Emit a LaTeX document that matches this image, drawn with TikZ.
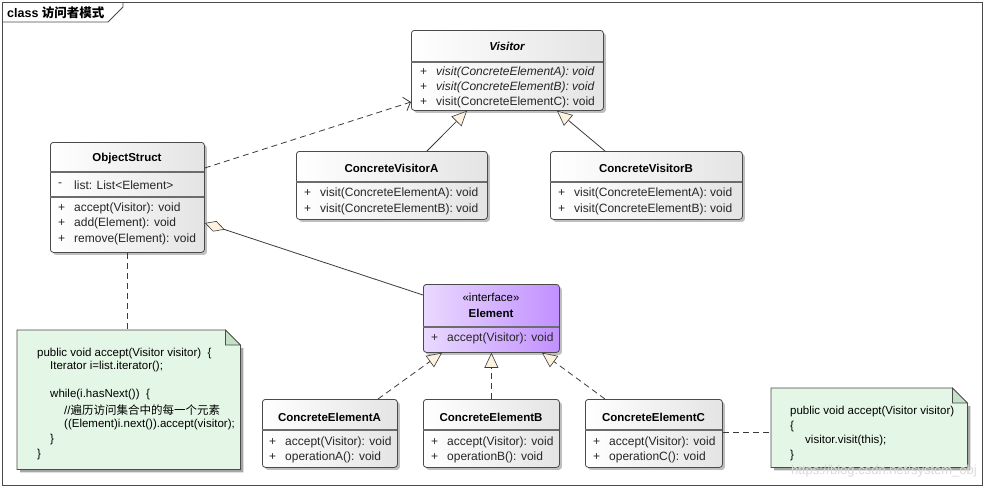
\documentclass[tikz,border=0pt]{standalone}
\usepackage{fontspec}
\setmainfont{Liberation Sans}
\newfontfamily\cjk{Noto Sans CJK SC}
\usetikzlibrary{arrows.meta,shadows}
\definecolor{boxR}{HTML}{E4E4E4}
\definecolor{elemL}{HTML}{EAD9FF}
\definecolor{elemR}{HTML}{C190FF}
\definecolor{notefill}{HTML}{E4F7E6}
\definecolor{foldfill}{HTML}{C4E0C6}
\definecolor{tricol}{HTML}{FDF1DF}
\definecolor{linecol}{HTML}{3A3A3A}
\definecolor{bordercol}{HTML}{4A4A4A}
\newcommand\mline[5]{\node[mem] (#1s) at (#2,#3) {#4}; \node[mem] (#1) at ({#2+16},#3) {#5};}
\begin{document}
\begin{tikzpicture}[x=1pt,y=-1pt,
  cls/.style={draw=bordercol, line width=0.8pt, rounded corners=3pt, left color=white, right color=boxR, shading angle=90,
    drop shadow={shadow xshift=2.5pt, shadow yshift=-2.5pt, fill=black, opacity=0.25}, anchor=north west, inner sep=0},
  ecls/.style={cls, left color=elemL, right color=elemR},
  divider/.style={draw=gray!85!black, line width=1.1pt},
  mem/.style={anchor=west, inner sep=0, font=\fontsize{12}{14}\selectfont, text=black!85},
  hdr/.style={inner sep=0, font=\fontsize{11.5}{13}\selectfont\bfseries},
  conn/.style={draw=linecol, line width=0.8pt},
  dep/.style={conn, dash pattern=on 6pt off 4pt, -{Straight Barb[length=6pt,width=14pt,line width=0.8pt]}},
  gen/.style={conn, -{Triangle[length=15pt,width=14pt,fill=tricol,line width=0.6pt]}},
  real/.style={gen, dash pattern=on 6pt off 4pt},
  aggr/.style={conn, {Diamond[length=21pt,width=11pt,fill=tricol,line width=0.6pt]}-},
  notel/.style={anchor=west, inner sep=0, font=\fontsize{11.5}{13}\selectfont, text=black},
]
\useasboundingbox (0,0) rectangle (985,488);
% frame
\draw[draw=bordercol, line width=0.8pt] (2,2) rectangle (982,485);
\draw[draw=bordercol, line width=0.8pt] (2,22) -- (108,22) -- (123,7) -- (123,2);
\node[anchor=west, inner sep=0, font=\fontsize{12.5}{14}\selectfont\bfseries] (title) at (7,12.5) {class {\cjk 访问者模式}};

% Visitor
\node[cls, minimum width=192, minimum height=80] (vis) at (411,30) {};
\draw[divider] (411,62) -- (603,62);
\node[hdr, font=\fontsize{11.5}{13}\selectfont\bfseries\itshape] (visn) at (507,46) {Visitor};
\mline{v1}{420}{72}{+}{\itshape visit(ConcreteElementA): void}
\mline{v2}{420}{87}{+}{\itshape visit(ConcreteElementB): void}
\mline{v3}{420}{102}{+}{visit(ConcreteElementC): void}

% ObjectStruct
\node[cls, minimum width=154, minimum height=110] (os) at (50,142) {};
\draw[divider] (50,172) -- (204,172);
\draw[divider] (50,197) -- (204,197);
\node[hdr] (osn) at (127,159) {ObjectStruct};
\mline{o0}{58}{185}{-}{list: List<Element>}
\mline{o1}{58}{208}{+}{accept(Visitor): void}
\mline{o2}{58}{223}{+}{add(Element): void}
\mline{o3}{58}{239}{+}{remove(Element): void}

% ConcreteVisitorA
\node[cls, minimum width=191, minimum height=68] (cva) at (296,151) {};
\draw[divider] (296,182) -- (487,182);
\node[hdr] (cvan) at (391.5,168) {ConcreteVisitorA};
\mline{a1}{304}{193}{+}{visit(ConcreteElementA): void}
\mline{a2}{304}{209}{+}{visit(ConcreteElementB): void}

% ConcreteVisitorB
\node[cls, minimum width=192, minimum height=68] (cvb) at (550,151) {};
\draw[divider] (550,182) -- (742,182);
\node[hdr] (cvbn) at (646,168) {ConcreteVisitorB};
\mline{b1}{558}{193}{+}{visit(ConcreteElementA): void}
\mline{b2}{558}{209}{+}{visit(ConcreteElementB): void}

% Element
\node[ecls, minimum width=136, minimum height=68] (el) at (423,284) {};
\draw[divider] (423,327) -- (559,327);
\node[inner sep=0, font=\fontsize{11.5}{13}\selectfont] (elst) at (491,297) {«interface»};
\node[hdr] (eln) at (491,313) {Element};
\mline{e1}{431}{338}{+}{accept(Visitor): void}

% Concrete elements
\node[cls, minimum width=135, minimum height=68] (cea) at (262,399) {};
\draw[divider] (262,430) -- (397,430);
\node[hdr] (cean) at (329.5,417) {ConcreteElementA};
\mline{ca1}{269}{442}{+}{accept(Visitor): void}
\mline{ca2}{269}{457}{+}{operationA(): void}

\node[cls, minimum width=136, minimum height=68] (ceb) at (423,399) {};
\draw[divider] (423,430) -- (559,430);
\node[hdr] (cebn) at (491,417) {ConcreteElementB};
\mline{cb1}{431}{442}{+}{accept(Visitor): void}
\mline{cb2}{431}{457}{+}{operationB(): void}

\node[cls, minimum width=137, minimum height=68] (cec) at (585,399) {};
\draw[divider] (585,430) -- (722,430);
\node[hdr] (cecn) at (653.5,417) {ConcreteElementC};
\mline{cc1}{593}{442}{+}{accept(Visitor): void}
\mline{cc2}{593}{457}{+}{operationC(): void}

% Note 1
\node[anchor=north west, minimum width=223, minimum height=139, inner sep=0] (n1) at (17,330) {};
\fill[black, opacity=0.35] ([xshift=3pt,yshift=-3pt]n1.north west) -- ([xshift=3pt,yshift=-18pt]n1.north east) -- ([xshift=3pt,yshift=-3pt]n1.south east) -- ([xshift=3pt,yshift=-3pt]n1.south west) -- cycle;
\filldraw[fill=notefill, draw=bordercol, line width=0.8pt] (n1.north west) -- ([xshift=-15pt]n1.north east) -- ([yshift=-15pt]n1.north east) -- (n1.south east) -- (n1.south west) -- cycle;
\filldraw[fill=foldfill, draw=bordercol, line width=0.8pt] ([xshift=-15pt]n1.north east) -- ([xshift=-15pt,yshift=-15pt]n1.north east) -- ([yshift=-15pt]n1.north east) -- cycle;
\node[notel] (n1l1) at (37,354) {public void accept(Visitor visitor)\ \ \{};
\node[notel] (n1l2) at (50,367) {Iterator i=list.iterator();};
\node[notel] (n1l3) at (50,395) {while(i.hasNext())\ \ \{};
\node[notel] (n1l4) at (64,410) {//{\cjk\fontsize{11.5}{13}\selectfont 遍历访问集合中的每一个元素}};
\node[notel] (n1l5) at (64,425) {((Element)i.next()).accept(visitor);};
\node[notel] (n1l6) at (50,440) {\}};
\node[notel] (n1l7) at (37,455) {\}};

% Note 2
\node[anchor=north west, minimum width=196, minimum height=79, inner sep=0] (n2) at (771,388) {};
\fill[black, opacity=0.35] ([xshift=3pt,yshift=-3pt]n2.north west) -- ([xshift=3pt,yshift=-18pt]n2.north east) -- ([xshift=3pt,yshift=-3pt]n2.south east) -- ([xshift=3pt,yshift=-3pt]n2.south west) -- cycle;
\filldraw[fill=notefill, draw=bordercol, line width=0.8pt] (n2.north west) -- ([xshift=-15pt]n2.north east) -- ([yshift=-15pt]n2.north east) -- (n2.south east) -- (n2.south west) -- cycle;
\filldraw[fill=foldfill, draw=bordercol, line width=0.8pt] ([xshift=-15pt]n2.north east) -- ([xshift=-15pt,yshift=-15pt]n2.north east) -- ([yshift=-15pt]n2.north east) -- cycle;
\node[notel] (n2l1) at (790,412) {public void accept(Visitor visitor)};
\node[notel] (n2l2) at (790,427) {\{};
\node[notel] (n2l3) at (805,441) {visitor.visit(this);};
\node[notel] (n2l4) at (790,456) {\}};

% watermark
\node[anchor=east, inner sep=0, font=\fontsize{13}{15}\selectfont, text=gray!30] (wm) at (977,471) {https://blog.csdn.net/system\_obj};

% connectors
\draw[dep] (os.east |- 0,168) -- (vis.west |- 0,102);
\draw[gen] (cva.north -| 427,0) -- (vis.south -| 467,0);
\draw[gen] (cvb.north -| 605,0) -- (vis.south -| 557,0);
\draw[aggr] (os.east |- 0,223) -- (el.west |- 0,295);
\draw[conn, dash pattern=on 6pt off 4pt] (os.south -| 127,0) -- (n1.north -| 127,0);
\draw[real] (cea.north -| 378,0) -- (el.south -| 442,0);
\draw[real] (ceb.north) -- (el.south);
\draw[real] (cec.north -| 605,0) -- (el.south -| 542,0);
\draw[conn, dash pattern=on 6pt off 4pt] (cec.east |- 0,432) -- (n2.west |- 0,432);
\end{tikzpicture}
\end{document}
